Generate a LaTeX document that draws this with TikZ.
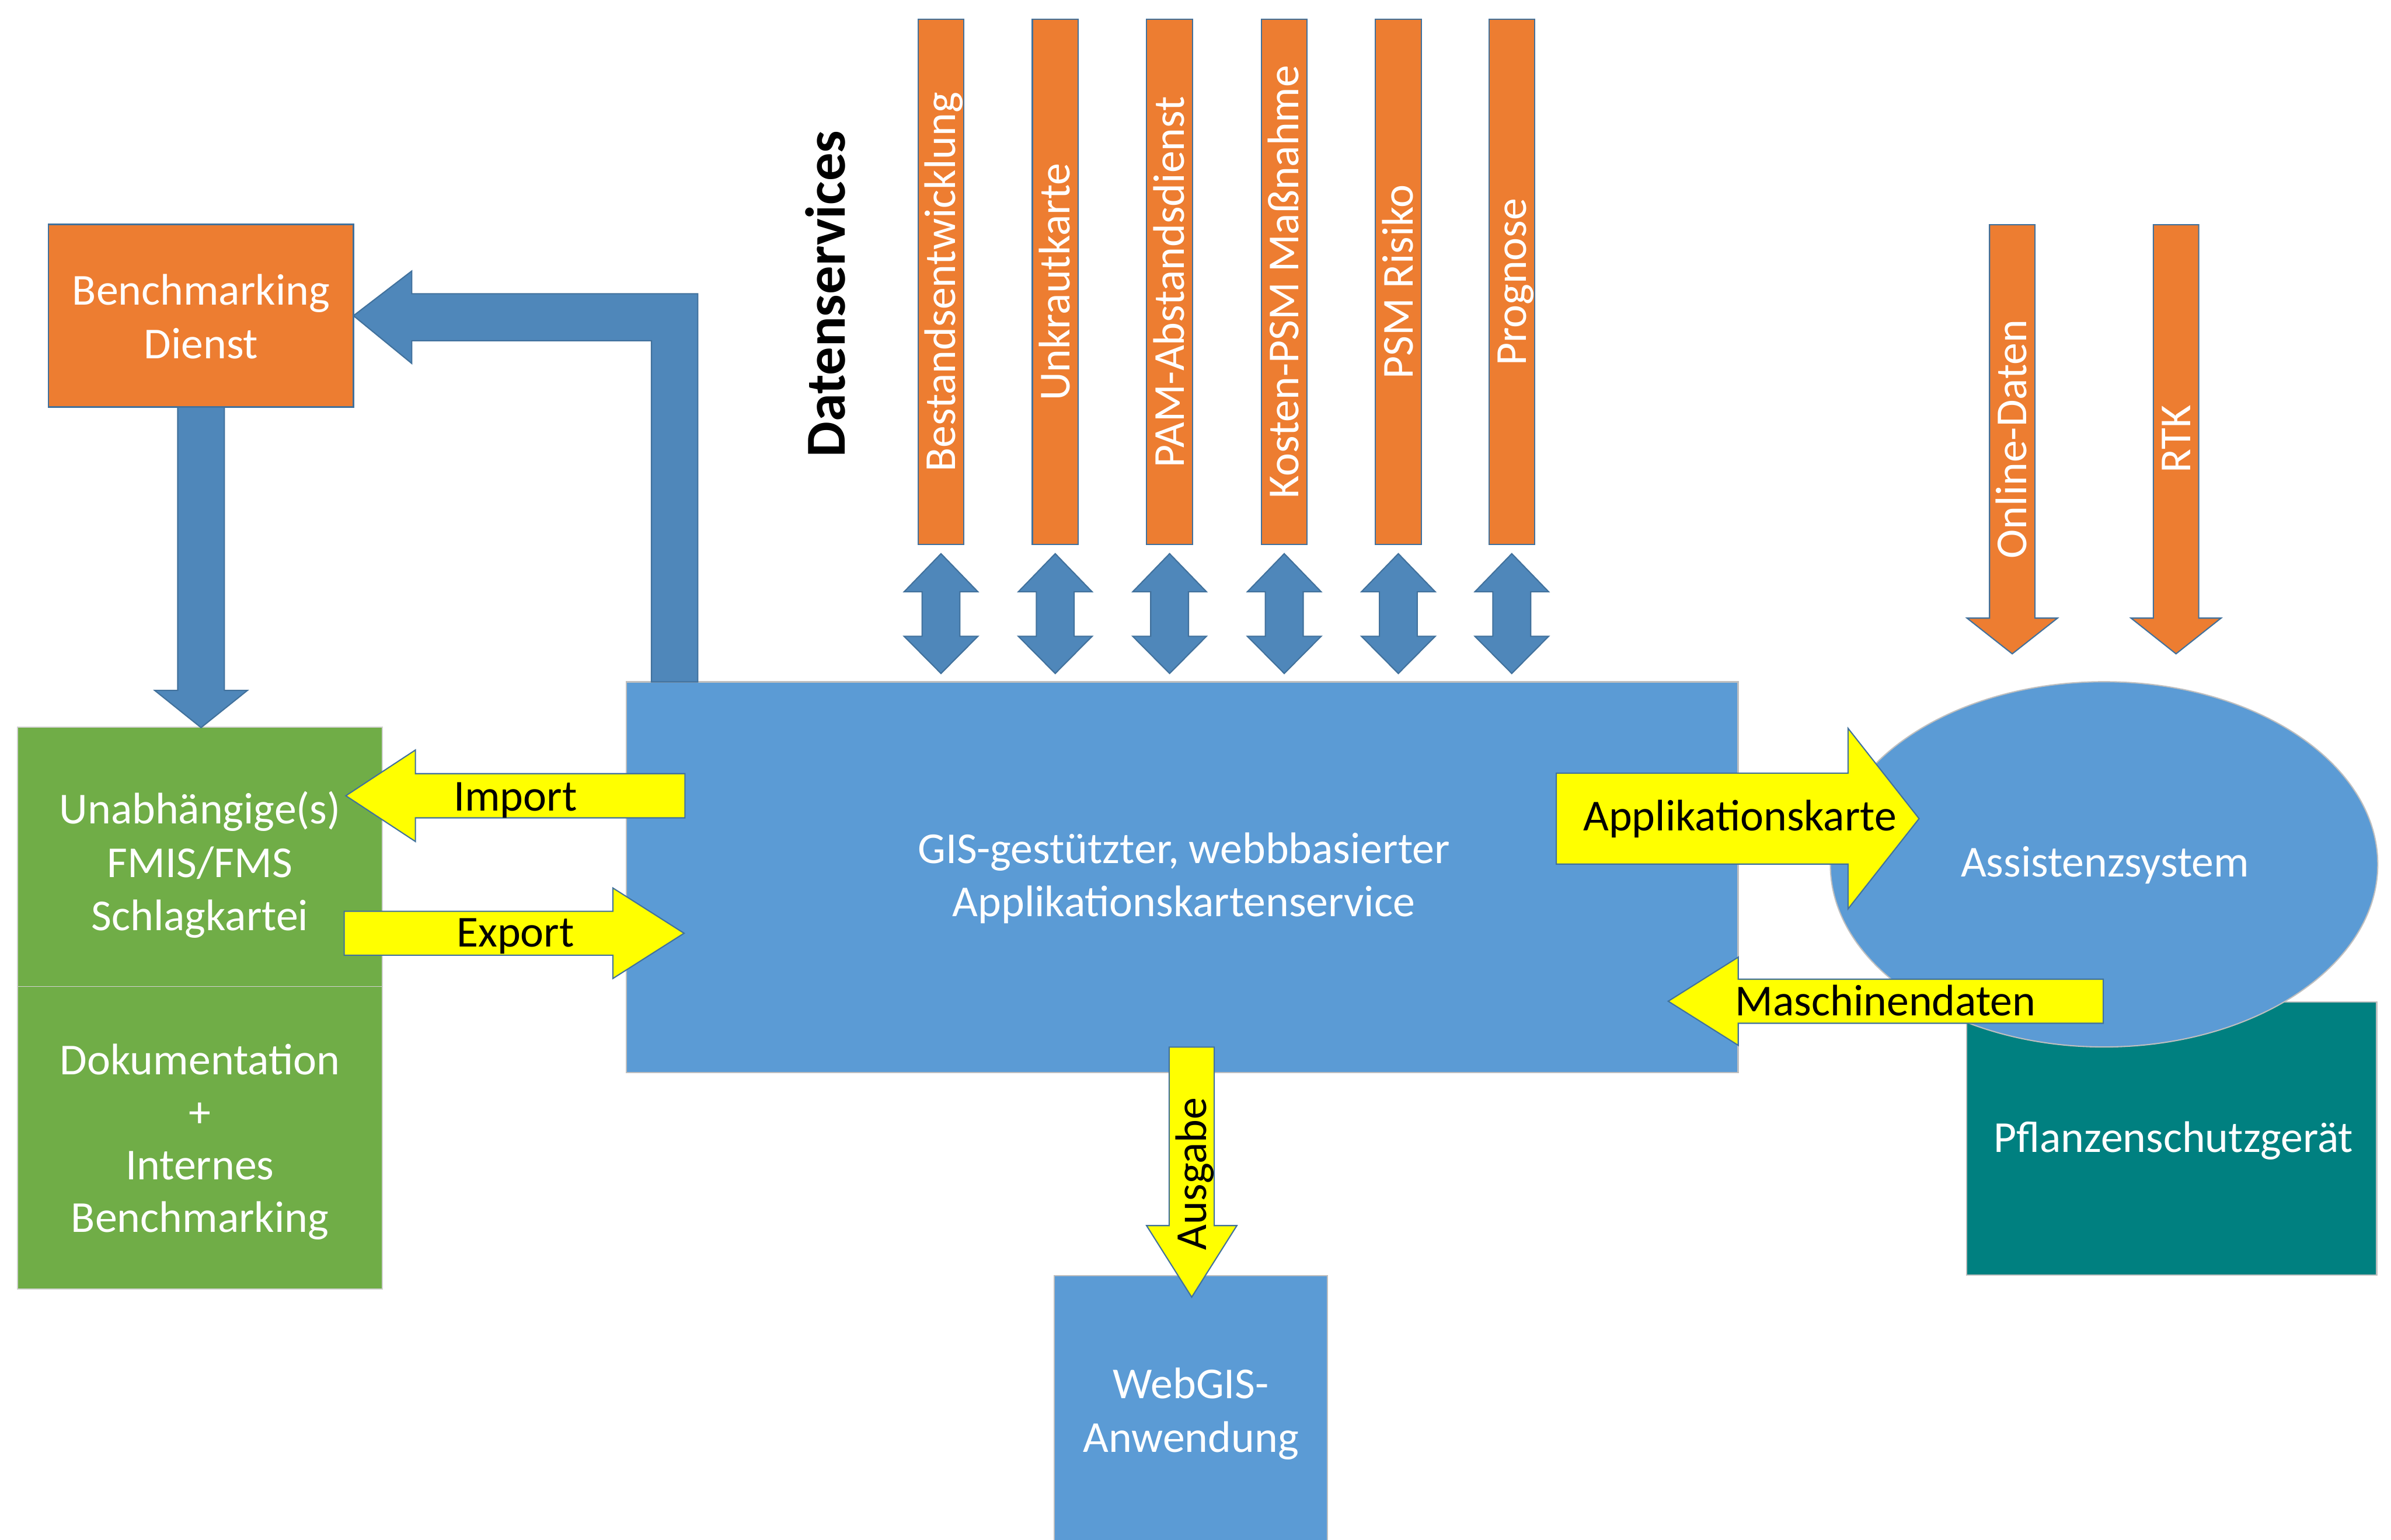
\documentclass[tikz,border=0pt]{standalone}
\usepackage{fontspec}
\setmainfont{Carlito}
\usetikzlibrary{calc,shapes.geometric}
\definecolor{orng}{HTML}{ED7D31}
\definecolor{bordblue}{HTML}{41719C}
\definecolor{arrblue}{HTML}{4F87BA}
\definecolor{boxblue}{HTML}{5B9BD5}
\definecolor{grn}{HTML}{70AD47}
\definecolor{tealbox}{HTML}{008080}
\definecolor{yel}{HTML}{FFFF00}
\definecolor{lgray}{HTML}{BFBFBF}
\begin{document}
\begin{tikzpicture}[x=1pt,y=-1pt,
  every node/.style={inner sep=0pt,outer sep=0pt},
  orangebox/.style={draw=bordblue,fill=orng,line width=0.8pt},
  bluebox/.style={draw=lgray,fill=boxblue,line width=0.8pt},
  greenbox/.style={draw=lgray!70,fill=grn,line width=0.6pt},
  blockblue/.style={draw=bordblue,fill=arrblue,line width=0.8pt,line join=miter},
  blockyel/.style={draw=bordblue,fill=yel,line width=0.8pt,line join=miter},
  blockorng/.style={draw=bordblue,fill=orng,line width=0.8pt,line join=miter},
  wtxt/.style={text=white,font=\fontsize{29}{35}\selectfont,align=center},
  btxt/.style={text=black,font=\fontsize{29}{35}\selectfont},
  vtxt/.style={rotate=90,text height=19pt,text depth=0pt,font=\fontsize{29}{35}\selectfont},
]
\useasboundingbox (0,0) rectangle (1568,1010);
\fill[white] (0,0) rectangle (1568,1010);

% ---------- Benchmarking Dienst ----------
\node[orangebox,minimum width=199.9pt,minimum height=119.8pt] (bench) at (131.85,207.1) {};
\node[wtxt] (benchtxt) at (131.85,207.6) {Benchmarking\\Dienst};

% ---------- green FMIS boxes ----------
\node[greenbox,minimum width=239.4pt,minimum height=170.3pt] (fmis) at (131.1,562.05) {};
\node[greenbox,minimum width=239.4pt,minimum height=198.4pt] (doku) at (131.1,746.4) {};
\node[wtxt] (fmistxt) at (131.1,567.4) {Unabhängige(s)\\FMIS/FMS\\Schlagkartei};
\node[wtxt,font=\fontsize{29}{34.4}\selectfont] (dokutxt) at (131.1,749.1) {Dokumentation\\+\\Internes\\Benchmarking};

% ---------- down arrow Benchmarking -> FMIS ----------
\path[blockblue] ([xshift=-15.3pt]bench.south) -- (116.55,452.9) -- (101.45,452.9)
  -- (131.85,477.3) -- (162.25,452.9) -- (147.15,452.9) -- ([xshift=15.3pt]bench.south) -- cycle;

% ---------- main box ----------
\node[bluebox,minimum width=729.2pt,minimum height=256.2pt] (gis) at (775.2,575.4) {};
\node[wtxt] (gistxt) at (776.3,576.1) {GIS-gestützter, webbbasierter\\Applikationskartenservice};

% ---------- bent arrow main -> Benchmarking ----------
\path[blockblue] (427.2,447.3) -- (427.2,223.5) -- (270,223.5) -- (270,238.4)
  -- (bench.east) -- (270,177.8) -- (270,192.7) -- (457.6,192.7) -- (457.6,447.3) -- cycle;

% ---------- Datenservices ----------
\node[rotate=90,text height=24pt,text depth=0pt,font=\fontsize{37}{44}\selectfont\bfseries] (ds) at (542.2,192.8) {Datenservices};

% ---------- service bars with double arrows ----------
\foreach \cx/\t/\n in {617.1/Bestandsentwicklung/b1, 692/Unkrautkarte/b2, 767/PAM-Abstandsdienst/b3,
   842.2/Kosten-PSM Maßnahme/b4, 917/PSM Risiko/b5, 991.4/Prognose/b6}{
  \node[orangebox,minimum width=30pt,minimum height=344.6pt] (\n) at (\cx,185) {};
  \node[vtxt,text=white] (\n txt) at (\cx,185) {\t};
  \path[blockblue] ($(\n.south)+(0,5.9)$) -- ++(24.2,25) -- ++(-11.8,0) -- ++(0,29.2) -- ++(11.8,0)
    -- ++(-24.2,24.4) -- ++(-24.2,-24.4) -- ++(11.8,0) -- ++(0,-29.2) -- ++(-11.8,0) -- cycle;
}

% ---------- WebGIS ----------
\node[bluebox,minimum width=179pt,minimum height=183.1pt] (webgis) at (780.9,928.45) {};
\node[wtxt] (webtxt) at (781,927.5) {WebGIS-\\Anwendung};

% ---------- Import / Export ----------
\path[blockyel] (449.2,507.5) -- (272.4,507.5) -- (272.4,492) -- (226.8,522) -- (272.4,552)
  -- (272.4,536.5) -- (449.2,536.5) -- cycle;
\node[btxt,anchor=base] (imp) at (338,532) {Import};
\path[blockyel] (225.7,597.8) -- (401.9,597.8) -- (401.9,582.5) -- (448.6,612.2) -- (401.9,641.9)
  -- (401.9,626.6) -- (225.7,626.6) -- cycle;
\node[btxt,anchor=base] (exp) at (338,621) {Export};

% ---------- Ausgabe ----------
\path[blockyel] (766.7,686.9) -- (766.7,804) -- (751.9,804) -- (781.5,850.9) -- (811.1,804)
  -- (796.3,804) -- (796.3,686.9) -- cycle;
\node[vtxt,text=black] (ausg) at (781.5,770) {Ausgabe};

% ---------- Pflanzenschutzgeraet and Assistenzsystem ----------
\node[draw=lgray,fill=tealbox,line width=0.8pt,minimum width=268.8pt,minimum height=179.4pt] (psg) at (1424.2,746.9) {};
\node[wtxt,anchor=base] (psgtxt) at (1425.2,755.8) {Pflanzenschutzgerät};
\node[ellipse,draw=lgray,fill=boxblue,line width=0.8pt,minimum width=359pt,minimum height=239.6pt] (assist) at (1379.8,567) {};
\node[wtxt,anchor=base] (assisttxt) at (1380.4,575.3) {Assistenzsystem};

% ---------- Online-Daten / RTK ----------
\path[blockorng] (1304.7,147.4) -- (1304.7,405.5) -- (1289.95,405.5) -- (1319.6,428.9) -- (1349.25,405.5)
  -- (1334.5,405.5) -- (1334.5,147.4) -- cycle;
\node[vtxt,text=white] (online) at (1319.6,288) {Online-Daten};
\path[blockorng] (1412.1,147.4) -- (1412.1,405.5) -- (1397.5,405.5) -- (1427,428.9) -- (1456.5,405.5)
  -- (1441.9,405.5) -- (1441.9,147.4) -- cycle;
\node[vtxt,text=white] (rtk) at (1427,288) {RTK};

% ---------- Applikationskarte / Maschinendaten ----------
\path[blockyel] (1020.6,507.15) -- (1211.9,507.15) -- (1211.9,477.75) -- (1258.5,537) -- (1211.9,596.25)
  -- (1211.9,566.85) -- (1020.6,566.85) -- cycle;
\node[btxt,anchor=base] (appk) at (1141,545) {Applikationskarte};
\path[blockyel] (1379.3,642.35) -- (1139.9,642.35) -- (1139.9,627.9) -- (1094,656.8) -- (1139.9,685.7)
  -- (1139.9,671.25) -- (1379.3,671.25) -- cycle;
\node[btxt,anchor=base] (masch) at (1236.5,666.3) {Maschinendaten};
\end{tikzpicture}
\end{document}
